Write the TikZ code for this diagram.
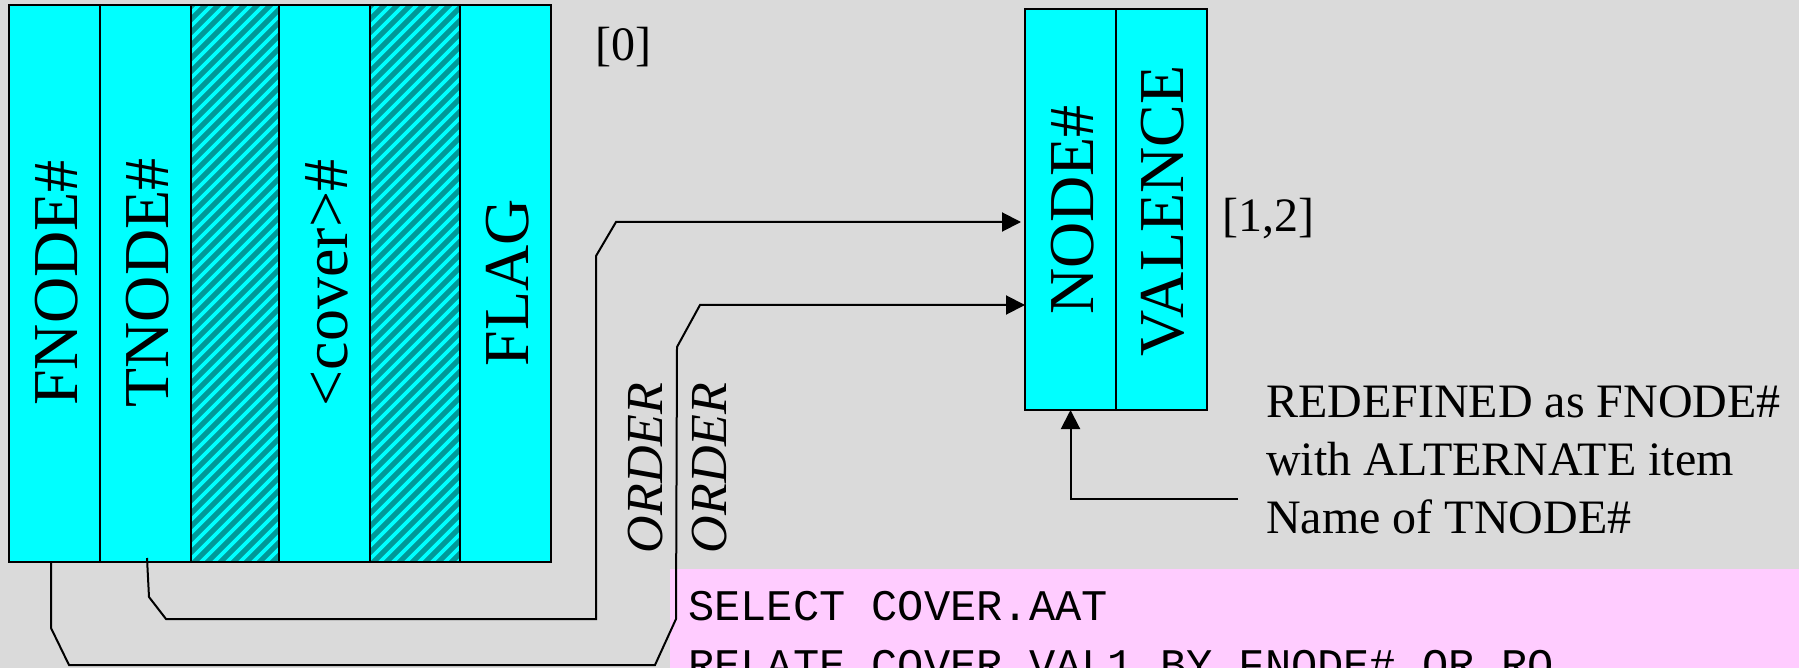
\documentclass[tikz,border=0pt]{standalone}
\usepackage{fontspec}
\setmainfont{Liberation Serif}
\setmonofont{Liberation Mono}
\usetikzlibrary{arrows.meta,calc}
\definecolor{bggray}{RGB}{218,218,218}
\definecolor{cyanbox}{RGB}{0,255,255}
\definecolor{hatchdark}{RGB}{0,153,153}
\definecolor{pinkbox}{RGB}{255,204,255}
\tikzset{
  colbox/.style={draw=black, line width=2.4pt, fill=cyanbox, inner sep=0pt, outer sep=0pt,
    minimum height=557pt},
  rcolbox/.style={colbox, minimum height=401pt, minimum width=91pt},
  hatchbox/.style={colbox, fill=hatchdark},
  collabel/.style={rotate=90, inner sep=0pt, font=\fontsize{64}{64}\selectfont},
  ordlabel/.style={rotate=90, inner sep=0pt, font=\fontsize{52}{52}\selectfont\itshape},
  plain/.style={inner sep=0pt, anchor=base west, font=\fontsize{48}{48}\selectfont},
  codetext/.style={inner sep=0pt, anchor=base west, font=\fontsize{43.7}{43.7}\selectfont\ttfamily},
  wire/.style={draw=black, line width=2pt},
  arrowwire/.style={wire, -{Triangle[length=19pt,width=19pt]}},
  stripe/.style={draw=cyanbox, line width=3.8pt}
}
\begin{document}
\begin{tikzpicture}[x=1pt,y=-1pt]
\clip (0,0) rectangle (1799,668);
\fill[bggray] (0,0) rectangle (1799,668);

% left record
\node[colbox, minimum width=91pt] (fnode) at (54.5,283.5) {};
\node[colbox, minimum width=91pt] (tnode) at (145.5,283.5) {};
\node[hatchbox, minimum width=88pt] (hatchA) at (235,283.5) {};
\node[colbox, minimum width=91pt] (cover) at (324.5,283.5) {};
\node[hatchbox, minimum width=90pt] (hatchB) at (415,283.5) {};
\node[colbox, minimum width=91pt] (flag) at (505.5,283.5) {};

\foreach \h in {hatchA,hatchB}{
  \begin{scope}
    \clip (\h.north west) rectangle (\h.south east);
    \foreach \s in {-624,-611,...,110}
      \draw[stripe] ($(\h.south west)+(\s,10)$) -- ++(640,-640);
  \end{scope}
  \draw[line width=2.4pt] (\h.north west) rectangle (\h.south east);
}

\node[collabel] (lfnode) at (57,283) {FNODE\#};
\node[collabel] (ltnode) at (148,283) {TNODE\#};
\node[collabel] (lcover) at (327,283) {<cover>\#};
\node[collabel] (lflag) at (508,283) {FLAG};

\node[plain] (idx0) at (595,61) {[0]};

% right record
\node[rcolbox] (nodecol) at (1070.5,209.5) {};
\node[rcolbox] (valcol) at (1161.5,209.5) {};
\node[collabel] (lnode) at (1073,210) {NODE\#};
\node[collabel] (lval) at (1163,211) {VALENCE};
\node[plain] (idx12) at (1222,232) {[1,2]};

% ORDER labels
\node[ordlabel] (ord1) at (646,468) {ORDER};
\node[ordlabel] (ord2) at (710,468) {ORDER};

% code box
\fill[pinkbox] (670,569) rectangle (1810,680);
\node[codetext] (code1) at (688,620) {SELECT COVER.AAT};
\node[codetext] (code2) at (688,679) {RELATE COVER.VAL1 BY FNODE\# OR RO};

% annotation
\node[plain] (ann1) at (1266,417) {REDEFINED as FNODE\#};
\node[plain] (ann2) at (1266,475) {with ALTERNATE item};
\node[plain] (ann3) at (1266,533) {Name of TNODE\#};

% connectors
\coordinate (a1) at (616,222);
\coordinate (a2) at (700,305);
\coordinate (annstart) at (1238,499);

\draw[arrowwire, shorten >=4pt]
  ([xshift=1.5pt,yshift=4pt]tnode.south) -- (149,597) -- (166,619) -- (596,619)
  -- (596,256) -- (a1) -- (a1 -| nodecol.west);
\draw[arrowwire]
  ([xshift=-3.5pt]fnode.south) -- (51,628) -- (69,665) -- (655,665) -- (676,619)
  -- (677,347) -- (a2) -- (a2 -| nodecol.west);
\draw[arrowwire] (annstart) -| (nodecol.south);
\end{tikzpicture}
\end{document}
